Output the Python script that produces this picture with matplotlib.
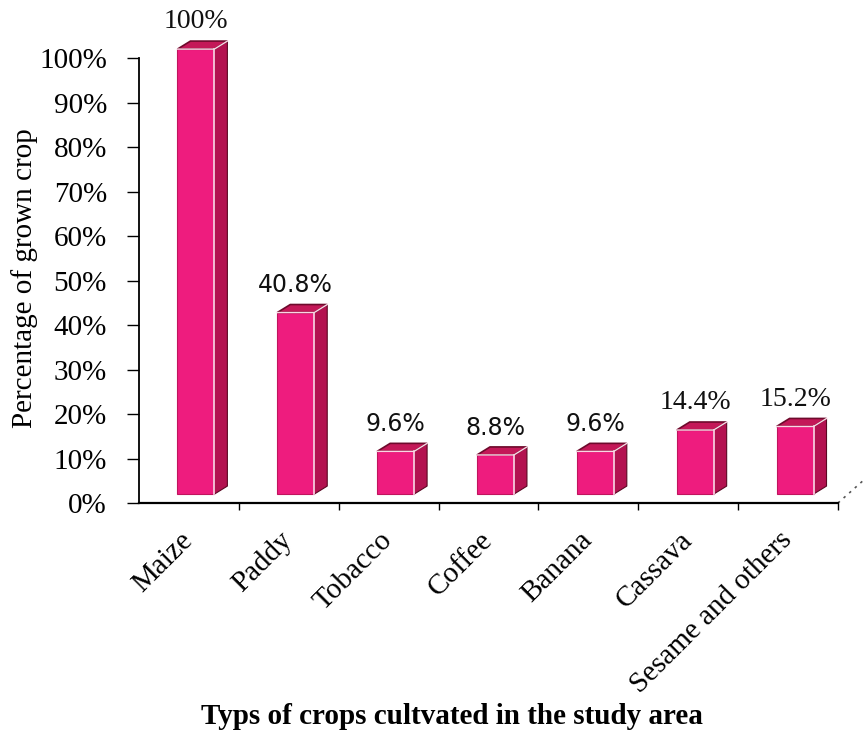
import matplotlib
matplotlib.use("Agg")
import matplotlib.pyplot as plt
from matplotlib.patches import Polygon, Rectangle

# Crop shares (%)
crops = ["Maize", "Paddy", "Tobacco", "Coffee", "Banana", "Cassava", "Sesame and others"]
shares = [100, 40.8, 9.6, 8.8, 9.6, 14.4, 15.2]
value_labels = ["100%", "40.8%", "9.6%", "8.8%", "9.6%", "14.4%", "15.2%"]
label_fonts = ["serif", "sans", "sans", "sans", "sans", "serif", "serif"]
y_ticks = [0, 10, 20, 30, 40, 50, 60, 70, 80, 90, 100]
y_ticklabels = [f"{t}%" for t in y_ticks]

SERIF = "Liberation Serif"
SANS = "DejaVu Sans"

FRONT = "#EE1C7E"
SIDE = "#B31250"
TOP = "#C41858"
TOP_EDGE = "#6E0A2C"

fig = plt.figure(figsize=(8.64, 7.32), dpi=100)
ax = fig.add_axes([139 / 864, 1 - 503 / 732, 699 / 864, 445 / 732])
ax.set_xlim(-0.5, len(crops) - 0.5)
ax.set_ylim(0, 100)

# 3-D look: front face lifted off the floor, plus oblique depth
lift = 2.0
ddx, ddy = 0.13, 1.8
w = 0.37
shift = 0.07

for i, v in enumerate(shares):
    x0 = i + shift - w / 2
    x1 = x0 + w
    y0 = lift
    y1 = lift + v
    side = Polygon([(x1, y0), (x1 + ddx, y0 + ddy), (x1 + ddx, y1 + ddy), (x1, y1)],
                   closed=True, facecolor=SIDE, edgecolor="#5A0822", lw=0.8,
                   clip_on=False, zorder=3)
    top = Polygon([(x0, y1), (x0 + ddx, y1 + ddy), (x1 + ddx, y1 + ddy), (x1, y1)],
                  closed=True, facecolor=TOP, edgecolor=TOP_EDGE, lw=1.2,
                  clip_on=False, zorder=3)
    front = Rectangle((x0, y0), w, v, facecolor=FRONT, edgecolor="#C0145E",
                      lw=0.8, clip_on=False, zorder=4)
    ax.add_patch(side)
    ax.add_patch(top)
    ax.add_patch(front)
    # light highlight along the front/side edge
    ax.plot([x1, x1], [y0, y1], color="#F8D8E4", lw=1.2, zorder=5, clip_on=False)
    ax.plot([x0, x1, x1 + ddx], [y1, y1, y1 + ddy], color="#F8D8E4", lw=1.0,
            zorder=5, clip_on=False)
    fam = SERIF if label_fonts[i] == "serif" else SANS
    size = 20 if label_fonts[i] == "serif" else 17
    ax.text(i + shift, v + 8.1, value_labels[i], ha="center", va="center",
            fontsize=size, family=fam, color="#111111", clip_on=False)

# floor edge receding to the right
ax.plot([6.5, 6.78], [0, 5.6], color="#555555", lw=1.2, ls=(0, (1.5, 3)),
        clip_on=False)

for s in ["top", "right"]:
    ax.spines[s].set_visible(False)
ax.spines["left"].set_linewidth(1.3)
ax.spines["bottom"].set_linewidth(1.6)

ax.set_yticks(y_ticks)
ax.set_yticklabels(y_ticklabels, fontsize=21, family=SERIF)
ax.tick_params(axis="y", direction="out", length=9, width=1, pad=14)

ax.set_xticks(range(len(crops)))
ax.set_xticklabels(crops, rotation=45, ha="right", va="center",
                   rotation_mode="anchor", fontsize=21, family=SERIF)
ax.tick_params(axis="x", which="major", length=0, pad=24)
ax.set_xticks([i + 0.5 for i in range(len(crops))], minor=True)
ax.tick_params(axis="x", which="minor", direction="out", length=5, width=1)

fig.text(25 / 864, 1 - 278 / 732, "Percentage of grown crop", rotation=90,
         ha="center", va="center", fontsize=21, family=SERIF)
fig.text(452 / 864, 1 - 716 / 732, "Typs of crops cultvated in the study area",
         ha="center", va="center", fontsize=21, family=SERIF, fontweight="bold")

fig.savefig("out.png", dpi=100, facecolor="white")
